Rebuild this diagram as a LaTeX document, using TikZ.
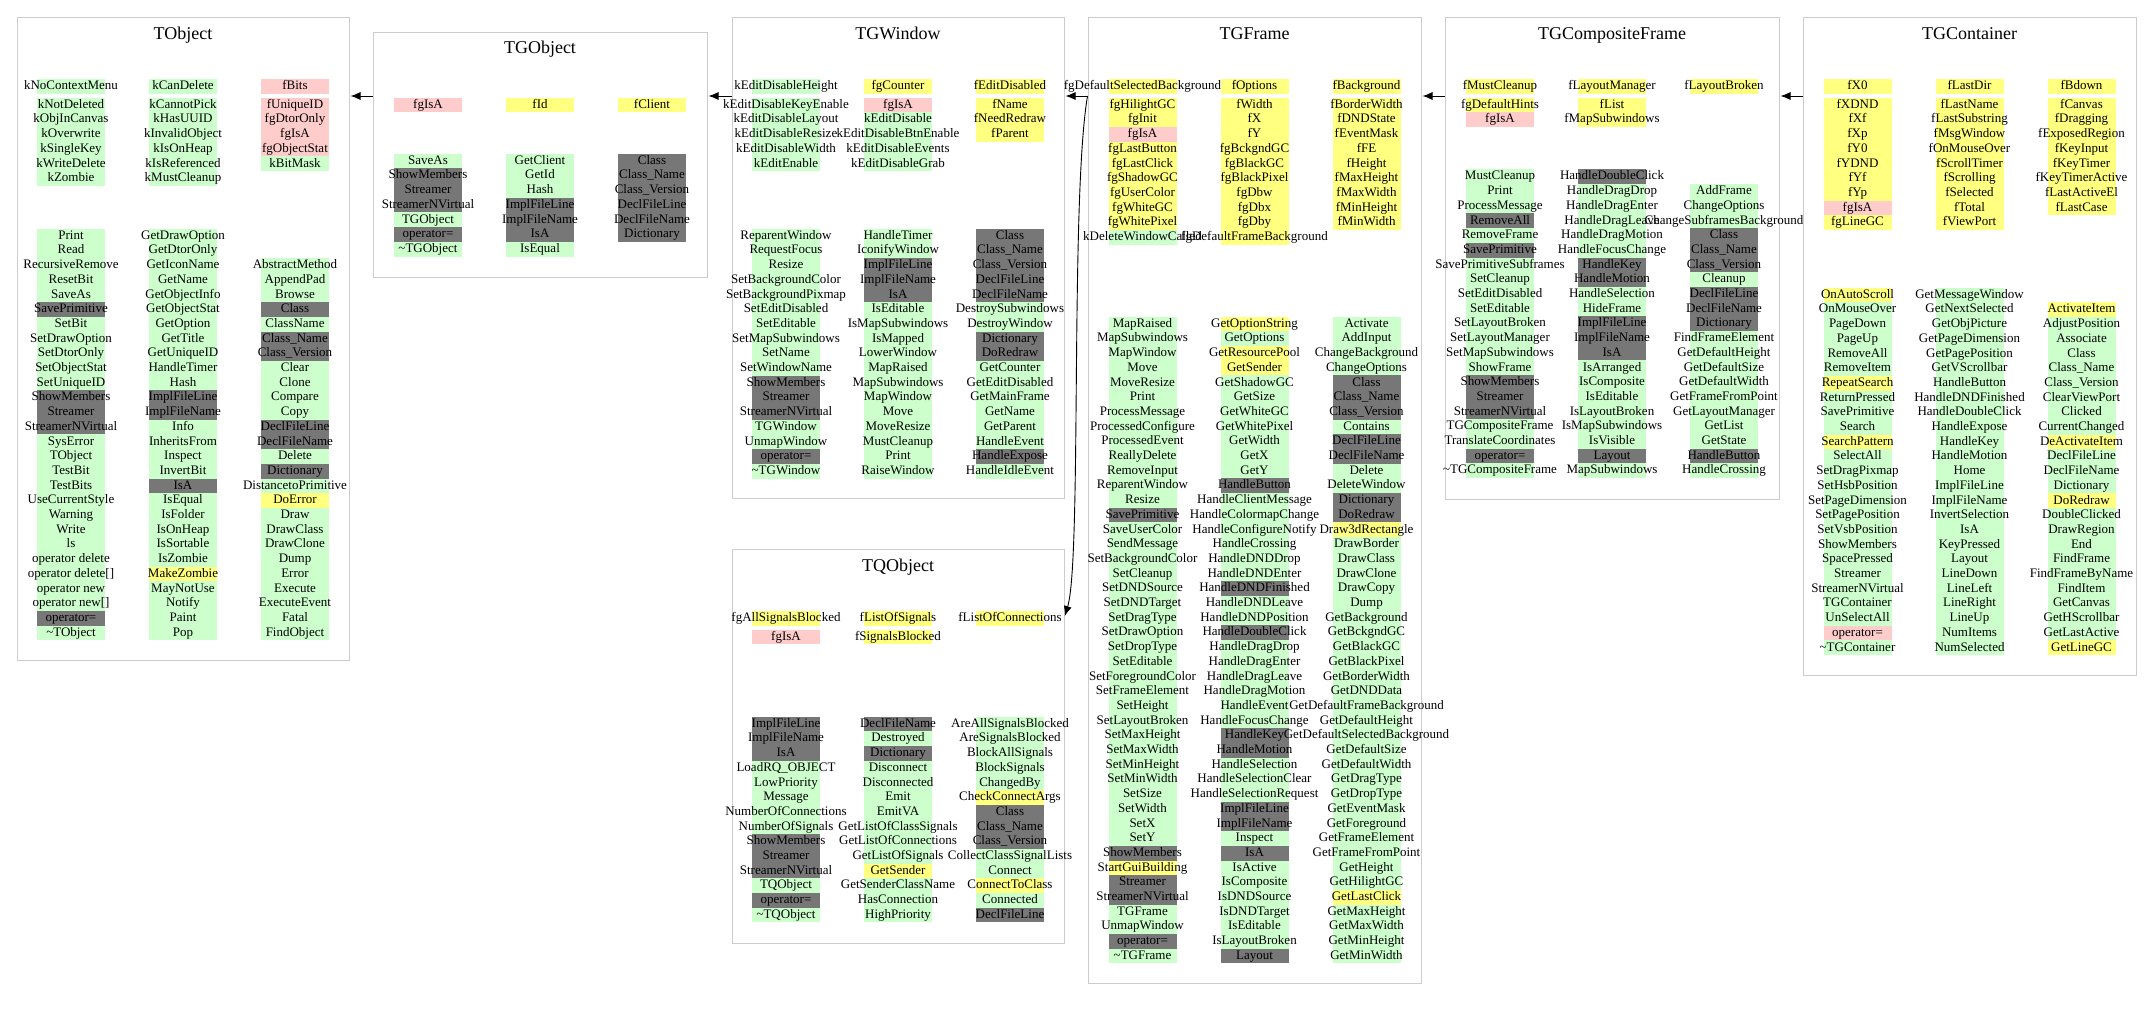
\documentclass[tikz,border=0pt]{standalone}
\usepackage{fontspec}
\setmainfont{Liberation Serif}
\usetikzlibrary{arrows.meta}
\usepackage{xcolor}

\definecolor{memG}{HTML}{CCFFCC}
\definecolor{memP}{HTML}{FFCCCC}
\definecolor{memY}{HTML}{FFFF80}
\definecolor{memD}{HTML}{777777}
\definecolor{boxgray}{HTML}{CCCCCC}

% class frame: name, left, top, right, bottom, title baseline
\newcommand{\classbox}[6]{%
  \node[classframe, minimum width={#4-#2}, minimum height={#5-#3}] (#1) at ({(#2+#4)/2},{(#3+#5)/2}) {};
  \node[classtitle] (#1-title) at ({(#2+#4)/2},#6) {#1};}
% one column of members: prefix, x, first row y, gap after first row, name/colour list
\newcommand{\memcol}[5]{%
  \foreach \txt/\clr [count=\i from 0] in {#5}
    \node[cell, fill=mem\clr] (#1-\i) at ({#2},{#3+\i*14.7+(\i>0)*#4}) {\makebox[68pt]{\txt}};}

\begin{document}
\begin{tikzpicture}[x=1pt, y=-1pt, shorten >= 1pt]
\tikzset{classframe/.style = {draw=boxgray, line width=1pt, inner sep=0pt}}
\tikzset{classtitle/.style = {anchor=base, font=\fontsize{18}{20}\selectfont}}
\tikzset{cell/.style = {inner sep=0pt, minimum height=14.7pt, text height=9.5pt, text depth=3pt, font=\fontsize{13}{15}\selectfont}}
\tikzset{edge/.style = {->, > = {Latex[length=10pt,width=8pt]}, line width=0.9pt}}

\useasboundingbox (0,0) rectangle (2152,1009);

%TObject
\classbox{TObject}{17}{17}{349}{660}{39.5}
\memcol{TObject-d1}{71}{86.7}{3.6}{kNoContextMenu/G, kNotDeleted/G, kObjInCanvas/G, kOverwrite/G, kSingleKey/G, kWriteDelete/G, kZombie/G}
\memcol{TObject-d2}{183}{86.7}{3.6}{kCanDelete/G, kCannotPick/G, kHasUUID/G, kInvalidObject/G, kIsOnHeap/G, kIsReferenced/G, kMustCleanup/G}
\memcol{TObject-d3}{295}{86.7}{3.6}{fBits/P, fUniqueID/P, fgDtorOnly/P, fgIsA/P, fgObjectStat/P, kBitMask/G}
\memcol{TObject-m1}{71}{236}{0}{Print/G, Read/G, RecursiveRemove/G, ResetBit/G, SaveAs/G, SavePrimitive/D, SetBit/G, SetDrawOption/G, SetDtorOnly/G, SetObjectStat/G, SetUniqueID/G, ShowMembers/D, Streamer/D, StreamerNVirtual/D, SysError/G, TObject/G, TestBit/G, TestBits/G, UseCurrentStyle/G, Warning/G, Write/G, ls/G, operator delete/G, operator delete[]/G, operator new/G, operator new[]/G, operator=/D, \textasciitilde TObject/G}
\memcol{TObject-m2}{183}{236}{0}{GetDrawOption/G, GetDtorOnly/G, GetIconName/G, GetName/G, GetObjectInfo/G, GetObjectStat/G, GetOption/G, GetTitle/G, GetUniqueID/G, HandleTimer/G, Hash/G, ImplFileLine/D, ImplFileName/D, Info/G, InheritsFrom/G, Inspect/G, InvertBit/G, IsA/D, IsEqual/G, IsFolder/G, IsOnHeap/G, IsSortable/G, IsZombie/G, MakeZombie/Y, MayNotUse/G, Notify/G, Paint/G, Pop/G}
\memcol{TObject-m3}{295}{265.4}{0}{AbstractMethod/G, AppendPad/G, Browse/G, Class/D, ClassName/G, Class\_Name/D, Class\_Version/D, Clear/G, Clone/G, Compare/G, Copy/G, DeclFileLine/D, DeclFileName/D, Delete/G, Dictionary/D, DistancetoPrimitive/G, DoError/Y, Draw/G, DrawClass/G, DrawClone/G, Dump/G, Error/G, Execute/G, ExecuteEvent/G, Fatal/G, FindObject/G}

%TGObject
\classbox{TGObject}{373}{32}{707}{277}{53.5}
\memcol{TGObject-d1}{428}{105}{3.6}{fgIsA/P}
\memcol{TGObject-d2}{540}{105}{3.6}{fId/Y}
\memcol{TGObject-d3}{652}{105}{3.6}{fClient/Y}
\memcol{TGObject-m1}{428}{161}{0}{SaveAs/G, ShowMembers/D, Streamer/D, StreamerNVirtual/D, TGObject/G, operator=/D, \textasciitilde TGObject/G}
\memcol{TGObject-m2}{540}{161}{0}{GetClient/G, GetId/G, Hash/G, ImplFileLine/D, ImplFileName/D, IsA/D, IsEqual/G}
\memcol{TGObject-m3}{652}{161}{0}{Class/D, Class\_Name/D, Class\_Version/D, DeclFileLine/D, DeclFileName/D, Dictionary/D}

%TGWindow
\classbox{TGWindow}{732}{17}{1064}{498}{39.5}
\memcol{TGWindow-d1}{786}{86.7}{3.6}{kEditDisableHeight/G, kEditDisableKeyEnable/G, kEditDisableLayout/G, kEditDisableResize/G, kEditDisableWidth/G, kEditEnable/G}
\memcol{TGWindow-d2}{898}{86.7}{3.6}{fgCounter/Y, fgIsA/P, kEditDisable/G, kEditDisableBtnEnable/G, kEditDisableEvents/G, kEditDisableGrab/G}
\memcol{TGWindow-d3}{1010}{86.7}{3.6}{fEditDisabled/Y, fName/Y, fNeedRedraw/Y, fParent/Y}
\memcol{TGWindow-m1}{786}{236}{0}{ReparentWindow/G, RequestFocus/G, Resize/G, SetBackgroundColor/G, SetBackgroundPixmap/G, SetEditDisabled/G, SetEditable/G, SetMapSubwindows/G, SetName/G, SetWindowName/G, ShowMembers/D, Streamer/D, StreamerNVirtual/D, TGWindow/G, UnmapWindow/G, operator=/D, \textasciitilde TGWindow/G}
\memcol{TGWindow-m2}{898}{236}{0}{HandleTimer/G, IconifyWindow/G, ImplFileLine/D, ImplFileName/D, IsA/D, IsEditable/G, IsMapSubwindows/G, IsMapped/G, LowerWindow/G, MapRaised/G, MapSubwindows/G, MapWindow/G, Move/G, MoveResize/G, MustCleanup/G, Print/G, RaiseWindow/G}
\memcol{TGWindow-m3}{1010}{236}{0}{Class/D, Class\_Name/D, Class\_Version/D, DeclFileLine/D, DeclFileName/D, DestroySubwindows/G, DestroyWindow/G, Dictionary/D, DoRedraw/D, GetCounter/G, GetEditDisabled/G, GetMainFrame/G, GetName/G, GetParent/G, HandleEvent/G, HandleExpose/D, HandleIdleEvent/G}

%TQObject
\classbox{TQObject}{732}{549}{1064}{943}{571.5}
\memcol{TQObject-d1}{786}{618.7}{3.6}{fgAllSignalsBlocked/Y, fgIsA/P}
\memcol{TQObject-d2}{898}{618.7}{3.6}{fListOfSignals/Y, fSignalsBlocked/Y}
\memcol{TQObject-d3}{1010}{618.7}{3.6}{fListOfConnections/Y}
\memcol{TQObject-m1}{786}{724}{0}{ImplFileLine/D, ImplFileName/D, IsA/D, LoadRQ\_OBJECT/G, LowPriority/G, Message/G, NumberOfConnections/G, NumberOfSignals/G, ShowMembers/D, Streamer/D, StreamerNVirtual/D, TQObject/G, operator=/D, \textasciitilde TQObject/G}
\memcol{TQObject-m2}{898}{724}{0}{DeclFileName/D, Destroyed/G, Dictionary/D, Disconnect/G, Disconnected/G, Emit/G, EmitVA/G, GetListOfClassSignals/G, GetListOfConnections/G, GetListOfSignals/G, GetSender/Y, GetSenderClassName/G, HasConnection/G, HighPriority/G}
\memcol{TQObject-m3}{1010}{724}{0}{AreAllSignalsBlocked/G, AreSignalsBlocked/G, BlockAllSignals/G, BlockSignals/G, ChangedBy/G, CheckConnectArgs/Y, Class/D, Class\_Name/D, Class\_Version/D, CollectClassSignalLists/G, Connect/G, ConnectToClass/Y, Connected/G, DeclFileLine/D}

%TGFrame
\classbox{TGFrame}{1088}{17}{1421}{983}{39.5}
\memcol{TGFrame-d1}{1142.5}{86.7}{3.6}{fgDefaultSelectedBackground/Y, fgHilightGC/Y, fgInit/Y, fgIsA/P, fgLastButton/Y, fgLastClick/Y, fgShadowGC/Y, fgUserColor/Y, fgWhiteGC/Y, fgWhitePixel/Y, kDeleteWindowCalled/G}
\memcol{TGFrame-d2}{1254.5}{86.7}{3.6}{fOptions/Y, fWidth/Y, fX/Y, fY/Y, fgBckgndGC/Y, fgBlackGC/Y, fgBlackPixel/Y, fgDbw/Y, fgDbx/Y, fgDby/Y, fgDefaultFrameBackground/Y}
\memcol{TGFrame-d3}{1366.5}{86.7}{3.6}{fBackground/Y, fBorderWidth/Y, fDNDState/Y, fEventMask/Y, fFE/Y, fHeight/Y, fMaxHeight/Y, fMaxWidth/Y, fMinHeight/Y, fMinWidth/Y}
\memcol{TGFrame-m1}{1142.5}{324}{0}{MapRaised/G, MapSubwindows/G, MapWindow/G, Move/G, MoveResize/G, Print/G, ProcessMessage/G, ProcessedConfigure/G, ProcessedEvent/G, ReallyDelete/G, RemoveInput/G, ReparentWindow/G, Resize/G, SavePrimitive/D, SaveUserColor/G, SendMessage/G, SetBackgroundColor/G, SetCleanup/G, SetDNDSource/G, SetDNDTarget/G, SetDragType/G, SetDrawOption/G, SetDropType/G, SetEditable/G, SetForegroundColor/G, SetFrameElement/G, SetHeight/G, SetLayoutBroken/G, SetMaxHeight/G, SetMaxWidth/G, SetMinHeight/G, SetMinWidth/G, SetSize/G, SetWidth/G, SetX/G, SetY/G, ShowMembers/D, StartGuiBuilding/Y, Streamer/D, StreamerNVirtual/D, TGFrame/G, UnmapWindow/G, operator=/D, \textasciitilde TGFrame/G}
\memcol{TGFrame-m2}{1254.5}{324}{0}{GetOptionString/Y, GetOptions/G, GetResourcePool/Y, GetSender/Y, GetShadowGC/G, GetSize/G, GetWhiteGC/G, GetWhitePixel/G, GetWidth/G, GetX/G, GetY/G, HandleButton/D, HandleClientMessage/G, HandleColormapChange/G, HandleConfigureNotify/G, HandleCrossing/G, HandleDNDDrop/G, HandleDNDEnter/G, HandleDNDFinished/D, HandleDNDLeave/G, HandleDNDPosition/G, HandleDoubleClick/D, HandleDragDrop/G, HandleDragEnter/G, HandleDragLeave/G, HandleDragMotion/G, HandleEvent/G, HandleFocusChange/G, HandleKey/D, HandleMotion/D, HandleSelection/G, HandleSelectionClear/G, HandleSelectionRequest/G, ImplFileLine/D, ImplFileName/D, Inspect/G, IsA/D, IsActive/G, IsComposite/G, IsDNDSource/G, IsDNDTarget/G, IsEditable/G, IsLayoutBroken/G, Layout/D}
\memcol{TGFrame-m3}{1366.5}{324}{0}{Activate/G, AddInput/G, ChangeBackground/G, ChangeOptions/G, Class/D, Class\_Name/D, Class\_Version/D, Contains/G, DeclFileLine/D, DeclFileName/D, Delete/G, DeleteWindow/G, Dictionary/D, DoRedraw/D, Draw3dRectangle/Y, DrawBorder/G, DrawClass/G, DrawClone/G, DrawCopy/G, Dump/G, GetBackground/G, GetBckgndGC/G, GetBlackGC/G, GetBlackPixel/G, GetBorderWidth/G, GetDNDData/G, GetDefaultFrameBackground/G, GetDefaultHeight/G, GetDefaultSelectedBackground/G, GetDefaultSize/G, GetDefaultWidth/G, GetDragType/G, GetDropType/G, GetEventMask/G, GetForeground/G, GetFrameElement/G, GetFrameFromPoint/G, GetHeight/G, GetHilightGC/G, GetLastClick/Y, GetMaxHeight/G, GetMaxWidth/G, GetMinHeight/G, GetMinWidth/G}

%TGCompositeFrame
\classbox{TGCompositeFrame}{1445}{17}{1779}{499}{39.5}
\memcol{TGCompositeFrame-d1}{1500}{86.7}{3.6}{fMustCleanup/Y, fgDefaultHints/Y, fgIsA/P}
\memcol{TGCompositeFrame-d2}{1612}{86.7}{3.6}{fLayoutManager/Y, fList/Y, fMapSubwindows/Y}
\memcol{TGCompositeFrame-d3}{1724}{86.7}{3.6}{fLayoutBroken/Y}
\memcol{TGCompositeFrame-m1}{1500}{176.7}{0}{MustCleanup/G, Print/G, ProcessMessage/G, RemoveAll/D, RemoveFrame/G, SavePrimitive/D, SavePrimitiveSubframes/G, SetCleanup/G, SetEditDisabled/G, SetEditable/G, SetLayoutBroken/G, SetLayoutManager/G, SetMapSubwindows/G, ShowFrame/G, ShowMembers/D, Streamer/D, StreamerNVirtual/D, TGCompositeFrame/G, TranslateCoordinates/G, operator=/D, \textasciitilde TGCompositeFrame/G}
\memcol{TGCompositeFrame-m2}{1612}{176.7}{0}{HandleDoubleClick/D, HandleDragDrop/G, HandleDragEnter/G, HandleDragLeave/G, HandleDragMotion/G, HandleFocusChange/G, HandleKey/D, HandleMotion/D, HandleSelection/G, HideFrame/G, ImplFileLine/D, ImplFileName/D, IsA/D, IsArranged/G, IsComposite/G, IsEditable/G, IsLayoutBroken/G, IsMapSubwindows/G, IsVisible/G, Layout/D, MapSubwindows/G}
\memcol{TGCompositeFrame-m3}{1724}{191.4}{0}{AddFrame/G, ChangeOptions/G, ChangeSubframesBackground/G, Class/D, Class\_Name/D, Class\_Version/D, Cleanup/G, DeclFileLine/D, DeclFileName/D, Dictionary/D, FindFrameElement/G, GetDefaultHeight/G, GetDefaultSize/G, GetDefaultWidth/G, GetFrameFromPoint/G, GetLayoutManager/G, GetList/G, GetState/G, HandleButton/D, HandleCrossing/G}

%TGContainer
\classbox{TGContainer}{1803}{17}{2136}{675}{39.5}
\memcol{TGContainer-d1}{1857.5}{86.7}{3.6}{fX0/Y, fXDND/Y, fXf/Y, fXp/Y, fY0/Y, fYDND/Y, fYf/Y, fYp/Y, fgIsA/P, fgLineGC/Y}
\memcol{TGContainer-d2}{1969.5}{86.7}{3.6}{fLastDir/Y, fLastName/Y, fLastSubstring/Y, fMsgWindow/Y, fOnMouseOver/Y, fScrollTimer/Y, fScrolling/Y, fSelected/Y, fTotal/Y, fViewPort/Y}
\memcol{TGContainer-d3}{2081.5}{86.7}{3.6}{fBdown/Y, fCanvas/Y, fDragging/Y, fExposedRegion/Y, fKeyInput/Y, fKeyTimer/Y, fKeyTimerActive/Y, fLastActiveEl/Y, fLastCase/Y}
\memcol{TGContainer-m1}{1857.5}{295}{0}{OnAutoScroll/Y, OnMouseOver/G, PageDown/G, PageUp/G, RemoveAll/G, RemoveItem/G, RepeatSearch/Y, ReturnPressed/G, SavePrimitive/G, Search/G, SearchPattern/Y, SelectAll/G, SetDragPixmap/G, SetHsbPosition/G, SetPageDimension/G, SetPagePosition/G, SetVsbPosition/G, ShowMembers/G, SpacePressed/G, Streamer/G, StreamerNVirtual/G, TGContainer/G, UnSelectAll/G, operator=/P, \textasciitilde TGContainer/G}
\memcol{TGContainer-m2}{1969.5}{295}{0}{GetMessageWindow/G, GetNextSelected/G, GetObjPicture/G, GetPageDimension/G, GetPagePosition/G, GetVScrollbar/G, HandleButton/G, HandleDNDFinished/G, HandleDoubleClick/G, HandleExpose/G, HandleKey/G, HandleMotion/G, Home/G, ImplFileLine/G, ImplFileName/G, InvertSelection/G, IsA/G, KeyPressed/G, Layout/G, LineDown/G, LineLeft/G, LineRight/G, LineUp/G, NumItems/G, NumSelected/G}
\memcol{TGContainer-m3}{2081.5}{309.7}{0}{ActivateItem/Y, AdjustPosition/G, Associate/G, Class/G, Class\_Name/G, Class\_Version/G, ClearViewPort/G, Clicked/G, CurrentChanged/G, DeActivateItem/Y, DeclFileLine/G, DeclFileName/G, Dictionary/G, DoRedraw/Y, DoubleClicked/G, DrawRegion/G, End/G, FindFrame/G, FindFrameByName/G, FindItem/G, GetCanvas/G, GetHScrollbar/G, GetLastActive/G, GetLineGC/Y}

%edges
\coordinate (inh) at (0,96);
\coordinate (sig) at (0,617);
\draw[edge] (TGObject.west |- inh) -- (TObject.east |- inh);
\draw[edge] (TGWindow.west |- inh) -- (TGObject.east |- inh);
\draw[edge] (TGFrame.west |- inh) -- (TGWindow.east |- inh);
\draw[edge] (TGFrame.west |- inh) .. controls (1070,200) and (1082,560) .. (TQObject.east |- sig);
\draw[edge] (TGCompositeFrame.west |- inh) -- (TGFrame.east |- inh);
\draw[edge] (TGContainer.west |- inh) -- (TGCompositeFrame.east |- inh);

\end{tikzpicture}
\end{document}
